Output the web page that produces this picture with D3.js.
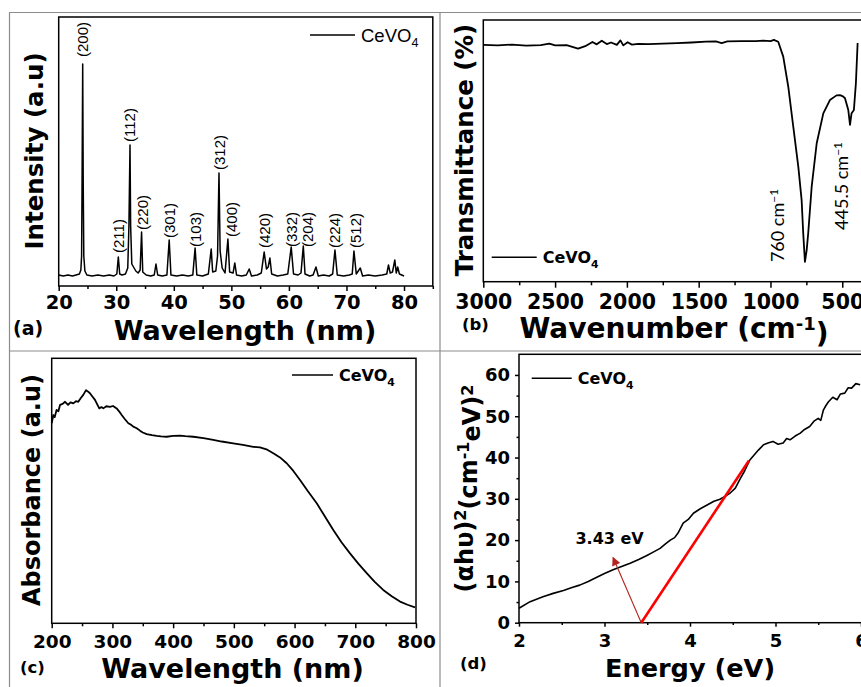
<!DOCTYPE html>
<html>
<head>
<meta charset="utf-8">
<script src="https://cdn.jsdelivr.net/npm/d3@7"></script>
<style>
  body { margin: 0; background: #fff; }
  svg { display: block; background: #fff; }
  .frame { fill: none; stroke: #000; stroke-width: 1.5; }
  .tick line { stroke: #000; stroke-width: 1.5; }
  .tick text { font-family: "DejaVu Sans"; font-weight: bold; fill: #000; }
  .divider { stroke: #8c8c8c; stroke-width: 1.2; }
  .curve { fill: none; stroke: #000; stroke-linejoin: round; }
  .big { font-family: "DejaVu Sans"; font-weight: bold; fill: #000; }
</style>
</head>
<body>
<div id="viz"></div>
<script>
// ---- (a) XRD pattern ----
var xrdTheta = [20.0, 20.8, 21.6, 22.4, 23.0, 23.6, 23.85, 23.98, 24.06, 24.17, 24.26, 24.36, 24.55, 24.9,
  25.8, 26.8, 27.8, 28.8, 29.6, 30.1, 30.36, 30.6, 31.0, 31.6, 32.0, 32.2, 32.39, 32.5, 32.7, 33.0,
  33.4, 33.8, 34.15, 34.4, 34.6, 35.2, 36.0, 36.6, 36.9, 37.2, 38.0, 38.8, 39.2, 39.5, 40.5, 41.5,
  42.5, 43.3, 43.7, 44.0, 45.0, 46.0, 46.5, 46.75, 47.3, 47.6, 47.85, 48.05, 48.4, 48.9, 49.4, 49.7,
  50.3, 50.6, 50.9, 51.8, 52.6, 53.1, 53.5, 54.5, 55.2, 55.7, 56.1, 56.4, 56.7, 57.0, 58.0, 59.0,
  59.8, 60.4, 60.8, 61.6, 62.1, 62.5, 62.8, 63.6, 64.2, 64.7, 65.1, 66.0, 67.0, 67.6, 68.0, 68.4,
  69.5, 70.5, 71.0, 71.3, 71.7, 72.4, 72.8, 73.8, 75.0, 76.2, 77.0, 77.3, 77.6, 78.0, 78.4, 78.65,
  78.9, 79.2, 79.6, 80.0];
var xrdIntensity = [11, 10, 11, 10, 11, 12, 16, 30, 103, 222, 103, 30, 15, 11,
  10, 11, 10, 11, 10, 12, 29, 12, 11, 12, 18, 60, 141, 60, 22, 19,
  15, 13, 16, 54, 14, 11, 10, 11, 22, 11, 10, 11, 46, 11, 10, 11,
  10, 11, 38, 11, 10, 12, 37, 14, 15, 30, 113, 35, 18, 13, 47, 14,
  13, 23, 11, 10, 11, 17, 10, 11, 13, 34, 17, 19, 28, 12, 10, 11,
  12, 39, 12, 11, 13, 40, 12, 10, 11, 19, 10, 11, 10, 12, 36, 11,
  10, 11, 12, 35, 12, 18, 10, 11, 10, 11, 12, 21, 13, 14, 26, 13,
  19, 12, 11, 10];
var hklLabels = ['(200)', '(211)', '(112)', '(220)', '(301)', '(103)', '(312)', '(400)', '(420)', '(332)', '(204)', '(224)', '(512)'];
var hklTheta = [24.2, 30.36, 32.39, 34.65, 39.34, 43.7, 48.0, 50.1, 55.7, 60.4, 63.3, 68.0, 71.5];
var hklLevel = [229, 33, 144, 56, 48, 39, 116, 49, 38, 39, 39, 38, 38];
var xrdTicks = [20, 30, 40, 50, 60, 70, 80];
var xrdMinor = [25, 35, 45, 55, 65, 75, 85];

// ---- (b) FTIR ----
var irWave = [3000, 2900, 2800, 2700, 2600, 2540, 2500, 2420, 2340, 2290, 2240, 2210, 2175, 2140, 2110,
  2070, 2045, 2025, 1995, 1965, 1920, 1850, 1750, 1650, 1550, 1450, 1380, 1340, 1300, 1200, 1100,
  1050, 1000, 975, 960, 946, 911, 876, 841, 806, 783, 772, 760, 748, 737, 713, 678, 632, 586, 540,
  516, 495, 481, 458, 446, 440, 435, 419, 405, 393];
var irTrans = [90.5, 90.3, 90.6, 90.2, 90.4, 91.0, 90.3, 90.4, 89.1, 90.0, 91.6, 90.7, 92.1, 90.8, 91.4,
  90.5, 92.2, 90.3, 91.5, 90.6, 90.9, 90.8, 91.0, 91.2, 91.4, 91.7, 91.8, 91.2, 91.8, 91.9, 91.9,
  92.1, 91.9, 92.4, 92.0, 91.7, 86.0, 74.5, 59.2, 43.9, 31.2, 18.6, 7.6, 12.0, 18.6, 36.3, 52.9, 64.3, 69.4, 71.2,
  71.3, 70.8, 70.1, 65.6, 59.9, 62.5, 64.4, 65.6, 75.9, 91.2];
var irTicks = [3000, 2500, 2000, 1500, 1000, 500];
var irMinor = [2750, 2250, 1750, 1250, 750];
var irBands = ['760', '445.5'];
var irBandPos = [948, 504];     // wavenumber where each label sits
var irBandLevel = [7.5, 19.8];

// ---- (c) UV-vis absorbance ----
var uvWave = [200, 202.7, 205, 208, 211, 213.7, 218, 222, 227, 231, 235.6, 240, 243.8, 248, 252, 256.5,
  260, 263, 267, 271.3, 275, 278.4, 282, 285, 290, 296, 301, 307, 311, 315.3, 320, 326.2, 330, 334.4,
  340, 345.4, 350, 356.5, 365, 373, 380, 389.4, 400, 411.3, 420, 433.2, 450, 466, 480, 499, 515, 532,
  543, 555, 565, 576, 587, 598, 609, 622, 636.5, 650, 663.8, 677, 691.3, 705, 718.8, 732, 746, 760,
  773.7, 786, 798.4];
var uvAbs = [75.5, 78.6, 77.8, 80.5, 80.0, 82.4, 82.8, 83.6, 82.4, 83.4, 83.0, 83.8, 83.6, 85.0, 86.2, 88.0,
  87.4, 86.8, 85.6, 84.3, 82.6, 81.1, 81.6, 81.1, 81.9, 81.7, 82.0, 81.1, 80.0, 78.6, 77.2, 75.5, 75.0, 74.2,
  73.6, 72.7, 72.0, 71.4, 71.0, 70.7, 70.5, 70.4, 70.7, 70.8, 70.6, 70.4, 69.9, 69.2, 68.6, 67.9, 67.3, 66.6,
  66.4, 65.5, 64.2, 62.6, 60.4, 57.5, 54.1, 49.8, 45.3, 40.3, 35.2, 30.7, 26.4, 22.5, 18.9, 15.6, 12.6, 10.2,
  8.2, 7.0, 6.0];
var uvTicks = [200, 300, 400, 500, 600, 700, 800];
var uvMinor = [250, 350, 450, 550, 650, 750];

// ---- (d) Tauc plot ----
var tcEnergy = [2.0, 2.13, 2.28, 2.40, 2.52, 2.62, 2.71, 2.81, 2.91, 3.00, 3.10, 3.20, 3.30, 3.40, 3.49, 3.57,
  3.65, 3.72, 3.77, 3.82, 3.86, 3.92, 3.98, 4.04, 4.12, 4.20, 4.28, 4.35, 4.41, 4.47, 4.53, 4.58, 4.64,
  4.70, 4.75, 4.80, 4.86, 4.92, 4.97, 5.03, 5.09, 5.13, 5.17, 5.23, 5.29, 5.34, 5.40, 5.45, 5.50, 5.53,
  5.56, 5.59, 5.62, 5.67, 5.72, 5.76, 5.81, 5.85, 5.89, 5.94, 5.99];
var tcValue = [3.5, 5.1, 6.3, 7.1, 7.8, 8.5, 9.1, 10.0, 11.0, 11.9, 12.8, 13.6, 14.4, 15.3, 16.2, 17.1,
  18.0, 19.2, 20.0, 20.6, 21.7, 24.1, 25.0, 26.5, 27.6, 28.5, 29.4, 29.9, 30.6, 31.4, 32.6, 34.6, 36.8,
  39.4, 40.6, 41.8, 43.1, 43.6, 43.9, 43.2, 43.5, 44.6, 44.3, 45.2, 45.9, 46.8, 47.5, 48.8, 49.5, 49.0,
  51.5, 52.6, 53.5, 54.6, 54.0, 55.4, 55.6, 56.9, 56.8, 57.9, 57.6];
var tcXTicks = [2, 3, 4, 5, 6];
var tcXMinor = [2.5, 3.5, 4.5, 5.5];
var tcYTicks = [0, 10, 20, 30, 40, 50, 60];
var tcYMinor = [5, 15, 25, 35, 45, 55];
var gapEnergy = 3.43;
var fitLine = [[3.43, 0], [4.69, 39.3]];
var arrowLine = [[3.43, 0], [3.10, 15.8]];
var gapLabel = [2.66, 19.0];

var svg = d3.select('#viz').append('svg')
  .attr('width', 861)
  .attr('height', 687);

// grey panel borders of the composite figure
svg.append('line').attr('class', 'divider').attr('x1', 9).attr('x2', 861).attr('y1', 12.5).attr('y2', 12.5);
svg.append('line').attr('class', 'divider').attr('x1', 9.5).attr('x2', 9.5).attr('y1', 12.5).attr('y2', 687);
svg.append('line').attr('class', 'divider').attr('x1', 440).attr('x2', 440).attr('y1', 12.5).attr('y2', 687);
svg.append('line').attr('class', 'divider').attr('x1', 9).attr('x2', 861).attr('y1', 351).attr('y2', 351);

var defs = svg.append('defs');
defs.append('marker')
  .attr('id', 'arrowhead')
  .attr('viewBox', '0 0 10 10')
  .attr('refX', 9).attr('refY', 5)
  .attr('markerWidth', 9).attr('markerHeight', 8)
  .attr('orient', 'auto')
  .append('path').attr('d', 'M0,0L10,5L0,10z').attr('fill', '#b3241e');

function frame(x, y, extraRight) {
  var r = x.range(), h = y.range();
  svg.append('rect').attr('class', 'frame')
    .attr('x', r[0]).attr('y', h[1])
    .attr('width', r[1] - r[0] + (extraRight || 0))
    .attr('height', h[0] - h[1]);
}

function xAxis(x, y0, major, minor, size, pad, fs) {
  var g = svg.append('g').attr('transform', 'translate(0,' + y0 + ')')
    .call(d3.axisBottom(x).tickValues(major).tickSize(size).tickPadding(pad).tickFormat(d3.format('d')));
  g.select('.domain').remove();
  g.selectAll('text').style('font-size', fs + 'px');
  var m = svg.append('g').attr('transform', 'translate(0,' + y0 + ')')
    .call(d3.axisBottom(x).tickValues(minor).tickSize(size * 0.6).tickFormat(''));
  m.select('.domain').remove();
}

function line(x, y, xs, ys) {
  return d3.line()
    .x(function(d, i) { return x(xs[i]); })
    .y(function(d, i) { return y(ys[i]); })(xs);
}

function cevo(t, size) {
  t.append('tspan').text('CeVO');
  t.append('tspan').attr('dy', size * 0.3).style('font-size', (size * 0.68) + 'px').text('4');
}

function legend(x0, x1, y0, bold, size, family) {
  svg.append('line').attr('x1', x0).attr('x2', x1).attr('y1', y0).attr('y2', y0)
    .attr('stroke', '#000').attr('stroke-width', 1.6);
  var t = svg.append('text')
    .attr('x', x1 + 6).attr('y', y0 + size * 0.36)
    .style('font-family', family)
    .style('font-weight', bold ? 'bold' : 'normal')
    .style('font-size', size + 'px');
  cevo(t, size);
}

function bigText(txt, x0, y0, size, rotate, anchor) {
  return svg.append('text').attr('class', 'big')
    .attr('transform', 'translate(' + x0 + ',' + y0 + ')' + (rotate ? ' rotate(-90)' : ''))
    .attr('text-anchor', anchor || 'middle')
    .style('font-size', size + 'px')
    .text(txt);
}

// ===== (a) =====
var xA = d3.scaleLinear().domain([20, 85]).range([58.7, 432.8]);
var yA = d3.scaleLinear().domain([0, 269]).range([286, 17]);
frame(xA, yA);
xAxis(xA, 286, xrdTicks, xrdMinor, 5, 4, 19.5);
svg.append('path').attr('class', 'curve').attr('stroke-width', 1.5)
  .attr('d', line(xA, yA, xrdTheta, xrdIntensity));
svg.selectAll('.hkl').data(hklLabels).enter().append('text')
  .attr('class', 'hkl')
  .attr('transform', function(d, i) { return 'translate(' + xA(hklTheta[i]) + ',' + yA(hklLevel[i]) + ') rotate(-90)'; })
  .attr('dy', '0.36em')
  .style('font-family', 'Liberation Sans, Arial')
  .style('font-size', '15px')
  .text(function(d) { return d; });
legend(310, 355, 35, false, 18.5, 'Liberation Sans, Arial');
bigText('Intensity (a.u)', 43, 151, 24.5, true);
bigText('Wavelength (nm)', 245, 340, 27);
bigText('(a)', 13, 335, 19, false, 'start');

// ===== (b) =====
var xB = d3.scaleLinear().domain([3000, 350]).range([483.3, 863.8]);
var yB = d3.scaleLinear().domain([0, 100]).range([281.7, 20]);
frame(xB, yB, 10);
xAxis(xB, 281.7, irTicks, irMinor, 6, 7, 20.5);
svg.append('path').attr('class', 'curve').attr('stroke-width', 1.8)
  .attr('d', line(xB, yB, irWave, irTrans));
irBands.forEach(function(b, i) {
  var t = svg.append('text')
    .attr('transform', 'translate(' + xB(irBandPos[i]) + ',' + yB(irBandLevel[i]) + ') rotate(-90)')
    .attr('dy', '0.36em')
    .style('font-family', 'Lato, Open Sans')
    .style('font-size', '18px');
  t.append('tspan').text(b + ' cm');
  t.append('tspan').attr('dy', '-0.5em').style('font-size', '12px').text('\u22121');
});
legend(491.7, 536.7, 257.3, true, 16, 'DejaVu Sans');
bigText('Transmittance (%)', 473, 150, 24.5, true);
var wb = bigText('', 674, 338, 28);
wb.append('tspan').text('Wavenumber (cm');
wb.append('tspan').attr('dy', '-0.45em').style('font-size', '18px').text('-1');
wb.append('tspan').attr('dy', '0.45em').text(')');
bigText('(b)', 462, 330, 16.5, false, 'start');

// ===== (c) =====
var xC = d3.scaleLinear().domain([200, 800]).range([51.7, 416]);
var yC = d3.scaleLinear().domain([0, 100]).range([623.3, 358.3]);
frame(xC, yC);
xAxis(xC, 623.3, uvTicks, uvMinor, 5, 6.7, 18.5);
svg.append('path').attr('class', 'curve').attr('stroke-width', 1.8)
  .attr('d', line(xC, yC, uvWave, uvAbs));
legend(292, 333, 375, true, 16, 'DejaVu Sans');
bigText('Absorbance (a.u)', 40, 490, 24, true);
bigText('Wavelength (nm)', 232.5, 678, 27);
bigText('(c)', 20, 673, 16.5, false, 'start');

// ===== (d) =====
var xD = d3.scaleLinear().domain([2, 6]).range([519, 861]);
var yD = d3.scaleLinear().domain([0, 65]).range([622.7, 354.3]);
frame(xD, yD, 10);
xAxis(xD, 622.7, tcXTicks, tcXMinor, 4, 8, 18);
var ya = svg.append('g').attr('transform', 'translate(519,0)')
  .call(d3.axisLeft(yD).tickValues(tcYTicks).tickSize(4).tickPadding(5));
ya.select('.domain').remove();
ya.selectAll('text').style('font-size', '18px');
var ym = svg.append('g').attr('transform', 'translate(519,0)')
  .call(d3.axisLeft(yD).tickValues(tcYMinor).tickSize(2.5).tickFormat(''));
ym.select('.domain').remove();
svg.append('path').attr('class', 'curve').attr('stroke-width', 1.6)
  .attr('d', line(xD, yD, tcEnergy, tcValue));
svg.append('line')
  .attr('x1', xD(fitLine[0][0])).attr('y1', yD(fitLine[0][1]))
  .attr('x2', xD(fitLine[1][0])).attr('y2', yD(fitLine[1][1]))
  .attr('stroke', '#ff0000').attr('stroke-width', 2.6);
svg.append('line')
  .attr('x1', xD(arrowLine[0][0])).attr('y1', yD(arrowLine[0][1]))
  .attr('x2', xD(arrowLine[1][0])).attr('y2', yD(arrowLine[1][1]))
  .attr('stroke', '#b3241e').attr('stroke-width', 1.1)
  .attr('marker-end', 'url(#arrowhead)');
svg.append('text').attr('class', 'big')
  .attr('x', xD(gapLabel[0])).attr('y', yD(gapLabel[1]))
  .style('font-size', '16px')
  .text(gapEnergy + ' eV');
legend(531.7, 571.7, 378.3, true, 16, 'DejaVu Sans');
var yl = bigText('', 473, 488.5, 24, true);
yl.append('tspan').text('(\u03b1h\u03c5)');
yl.append('tspan').attr('dy', '-0.45em').style('font-size', '16px').text('2');
yl.append('tspan').attr('dy', '0.45em').text('(cm');
yl.append('tspan').attr('dy', '-0.45em').style('font-size', '16px').text('-1');
yl.append('tspan').attr('dy', '0.45em').text('eV)');
yl.append('tspan').attr('dy', '-0.45em').style('font-size', '16px').text('2');
bigText('Energy (eV)', 690, 677, 25.6);
bigText('(d)', 460, 669, 16.5, false, 'start');
</script>
</body>
</html>
